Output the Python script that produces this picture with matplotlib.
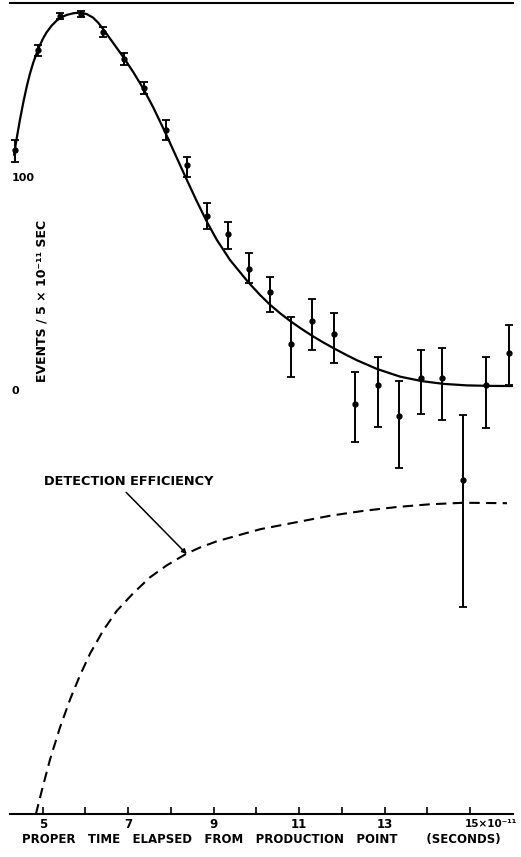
import matplotlib.pyplot as plt

plt.rcParams['font.family'] = ['DejaVu Sans']
plt.rcParams['font.weight'] = 'bold'

# measured decay-time histogram (events per 5e-11 s bin)
t_bins = [4.35, 4.88, 5.40, 5.90, 6.41, 6.90, 7.37, 7.88, 8.38, 8.85, 9.34, 9.83,
          10.32, 10.81, 11.30, 11.82, 12.31, 12.85, 13.34, 13.85, 14.35, 14.84, 15.37, 15.91]
events = [110.8, 157.7, 173.7, 174.6, 166.2, 153.5, 139.9, 120.2, 103.8, 79.8, 71.4, 54.9,
          44.1, 19.7, 30.5, 24.4, -8.5, 0.5, -14.1, 3.8, 3.8, -44.1, 0.5, 15.5]
err_lo = [5.6, 3.0, 1.5, 1.5, 2.3, 2.8, 2.8, 4.7, 5.6, 6.1, 7.0, 6.6,
          9.4, 15.5, 13.6, 13.6, 17.8, 19.7, 24.4, 16.9, 19.7, 59.6, 20.2, 15.0]
err_hi = [4.7, 2.5, 1.5, 1.5, 2.3, 2.8, 2.8, 4.7, 3.8, 6.1, 5.6, 7.5,
          7.0, 12.7, 10.3, 9.9, 15.0, 13.1, 16.4, 13.1, 14.1, 30.5, 13.1, 13.1]

# fitted curve
fit_t = [4.33, 4.39, 4.47, 4.55, 4.63, 4.70, 4.78, 4.90, 5.00, 5.09, 5.21, 5.33, 5.44,
         5.56, 5.72, 5.87, 6.03, 6.18, 6.30, 6.42, 6.65, 6.89, 7.12, 7.35, 7.59, 7.86,
         8.10, 8.37, 8.60, 8.84, 9.07, 9.38, 9.80, 10.09, 10.32, 10.55, 10.79, 11.04,
         11.30, 11.55, 11.80, 12.11, 12.35, 12.82, 13.36, 13.87, 14.38, 14.92, 15.5, 16.0]
fit_events = [108.6, 116.1, 125.3, 133.5, 140.9, 146.5, 151.9, 158.5, 162.8, 166.0, 169.2,
              171.6, 173.1, 174.2, 175.0, 175.3, 174.6, 172.9, 170.5, 167.4, 161.0, 154.3,
              147.3, 139.7, 130.6, 119.3, 108.7, 96.8, 86.9, 77.1, 68.7, 59.2, 48.9, 42.6,
              38.1, 34.2, 30.5, 27.0, 23.6, 20.6, 17.8, 14.5, 12.1, 8.0, 4.4, 2.3, 1.0,
              0.3, 0.05, 0.0]

# detection efficiency (drawn on the same vertical scale)
eff_t = [4.84, 4.98, 5.17, 5.40, 5.64, 5.87, 6.11, 6.42, 6.73, 7.12, 7.51, 7.90, 8.37,
         8.68, 9.07, 10.09, 11.72, 12.50, 13.28, 14.06, 14.84, 15.86]
eff_y = [-201.0, -189.8, -175.4, -160.5, -147.1, -135.9, -125.5, -114.6, -105.6, -97.2,
         -89.8, -84.2, -78.6, -75.8, -72.9, -67.2, -60.9, -58.6, -56.8, -55.5, -54.8, -55.0]

xticks = [5, 6, 7, 8, 9, 10, 11, 12, 13, 14, 15]
xtick_labels = ['5', '', '7', '', '9', '', '11', '', '13', '', '']
ytick_vals = [100, 0]
ytick_labels = ['100', '0']

fig = plt.figure(figsize=(5.21, 8.57), dpi=100)
ax = fig.add_axes([10 / 521, 43 / 857, 503 / 521, 811 / 857])

ax.plot(fit_t, fit_events, color='black', lw=1.6, solid_joinstyle='round')
ax.errorbar(t_bins, events, yerr=[err_lo, err_hi], fmt='o', color='black', ms=3.5,
            elinewidth=1.4, capsize=3, capthick=1.3)
ax.plot(eff_t, eff_y, color='black', lw=1.5, dashes=(5, 3))

ax.annotate('DETECTION EFFICIENCY', xy=(8.37, -78.9), xytext=(7.0, -44.6),
            ha='center', va='center', fontsize=9.3,
            arrowprops=dict(arrowstyle='-|>', color='black', lw=1.1, mutation_scale=7,
                            shrinkA=2, shrinkB=0, relpos=(0.46, 0.0)))

ax.set_xlim(4.235, 16.0)
ax.set_ylim(-200.9, 179.8)

for side in ['left', 'right']:
    ax.spines[side].set_visible(False)
for side in ['top', 'bottom']:
    ax.spines[side].set_linewidth(1.5)

ax.set_yticks([])
ax.set_xticks(xticks)
ax.set_xticklabels(xtick_labels)
ax.tick_params(axis='x', direction='in', length=5, width=1.2, pad=3, labelsize=8.5)
ax.text(14.87, -0.006, '15×10⁻¹¹', transform=ax.get_xaxis_transform(),
        ha='left', va='top', fontsize=7.5)

for v, lab in zip(ytick_vals, ytick_labels):
    ax.text(4.28, v - 2.5, lab, ha='left', va='center', fontsize=8)

ax.text(4.98, 40, 'EVENTS / 5 × 10⁻¹¹ SEC', rotation=90, ha='center', va='center', fontsize=9)
ax.text(0.5, -0.032, 'PROPER   TIME   ELAPSED   FROM   PRODUCTION   POINT       (SECONDS)',
        transform=ax.transAxes, ha='center', va='center', fontsize=8.5)

fig.savefig('out.png', dpi=100)
